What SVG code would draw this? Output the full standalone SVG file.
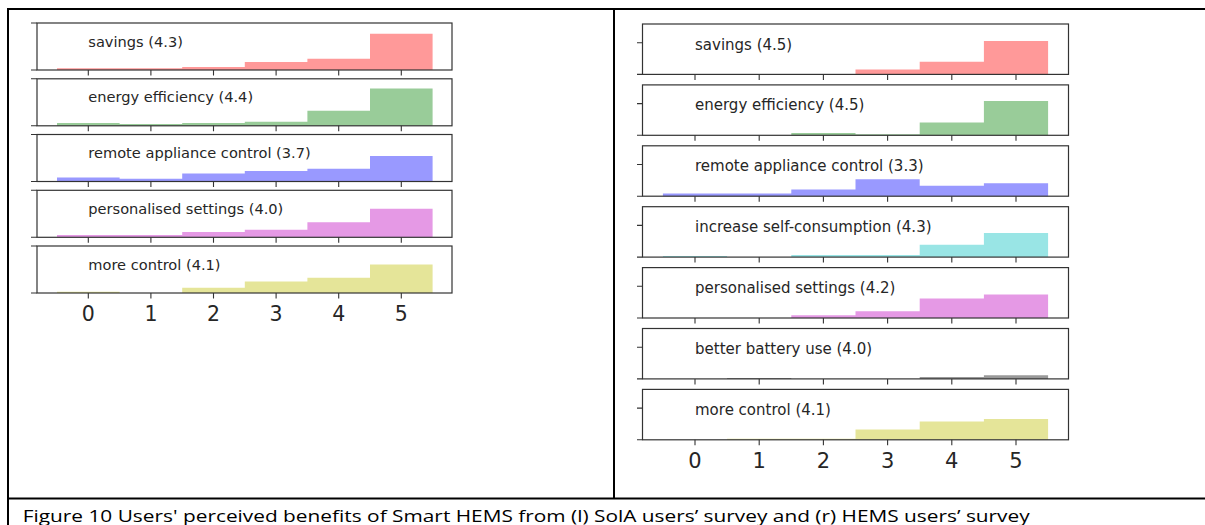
<svg xmlns="http://www.w3.org/2000/svg" width="1205" height="525" viewBox="0 0 1205 525">
<style>
.frame{fill:none;stroke:#333;stroke-width:1.2}
.tick{fill:none;stroke:#333;stroke-width:1.1}
.lblL{font-family:'DejaVu Sans',sans-serif;font-size:14.6px;fill:#262626}
.lblR{font-family:'DejaVu Sans',sans-serif;font-size:15px;fill:#262626}
.numL{font-family:'DejaVu Sans',sans-serif;font-size:20.5px;fill:#262626;text-anchor:middle}
.numR{font-family:'DejaVu Sans',sans-serif;font-size:21px;fill:#262626;text-anchor:middle}
.border{stroke:#000;stroke-width:2;fill:none}
.cap{font-family:'Open Sans',sans-serif;font-size:17px;fill:#000}
.r{fill:#ff9999}.g{fill:#99cc99}.b{fill:#9999ff}.m{fill:#e599e5}.y{fill:#e5e599}.c{fill:#99e5e5}.k{fill:#999999}
</style>
<rect x="0" y="0" width="1205" height="525" fill="#fff"/>
<g id="table-borders">
<path class="border" d="M7,9 H1205"/>
<path class="border" d="M8,8 V525"/>
<path class="border" d="M614,8 V498.5"/>
<path class="border" d="M7,498.5 H1205"/>
</g>
<g id="left-panel">
<g id="L1">
<path class="r" d="M57,70 V68.3 H119.6 V68.3 H182.2 V67 H244.8 V62 H307.4 V58.7 H370 V33.7 H432.6 V70 Z"/>
<rect class="frame" x="37" y="23" width="415" height="47"/>
<path class="tick" d="M31,23 H37 M31,70 H37 M88.3,70 v5.5 M150.9,70 v5.5 M213.5,70 v5.5 M276.1,70 v5.5 M338.7,70 v5.5 M401.3,70 v5.5"/>
<text class="lblL" x="88.3" y="46.5">savings (4.3)</text>
</g>
<g id="L2">
<path class="g" d="M57,125.8 V123.1 H119.6 V124.1 H182.2 V123.1 H244.8 V121.8 H307.4 V110.8 H370 V88.5 H432.6 V125.8 Z"/>
<rect class="frame" x="37" y="78.8" width="415" height="47"/>
<path class="tick" d="M31,78.8 H37 M31,125.8 H37 M88.3,125.8 v5.5 M150.9,125.8 v5.5 M213.5,125.8 v5.5 M276.1,125.8 v5.5 M338.7,125.8 v5.5 M401.3,125.8 v5.5"/>
<text class="lblL" x="88.3" y="102.3">energy efficiency (4.4)</text>
</g>
<g id="L3">
<path class="b" d="M57,181.5 V177.5 H119.6 V178.8 H182.2 V173.5 H244.8 V171.1 H307.4 V168.8 H370 V156.1 H432.6 V181.5 Z"/>
<rect class="frame" x="37" y="134.5" width="415" height="47"/>
<path class="tick" d="M31,134.5 H37 M31,181.5 H37 M88.3,181.5 v5.5 M150.9,181.5 v5.5 M213.5,181.5 v5.5 M276.1,181.5 v5.5 M338.7,181.5 v5.5 M401.3,181.5 v5.5"/>
<text class="lblL" x="88.3" y="158">remote appliance control (3.7)</text>
</g>
<g id="L4">
<path class="m" d="M57,237.3 V235 H119.6 V235 H182.2 V232 H244.8 V229.7 H307.4 V222.3 H370 V208.7 H432.6 V237.3 Z"/>
<rect class="frame" x="37" y="190.3" width="415" height="47"/>
<path class="tick" d="M31,190.3 H37 M31,237.3 H37 M88.3,237.3 v5.5 M150.9,237.3 v5.5 M213.5,237.3 v5.5 M276.1,237.3 v5.5 M338.7,237.3 v5.5 M401.3,237.3 v5.5"/>
<text class="lblL" x="88.3" y="213.8">personalised settings (4.0)</text>
</g>
<g id="L5">
<path class="y" d="M57,293 V291.7 H119.6 V293 H182.2 V287.7 H244.8 V281.4 H307.4 V277.7 H370 V264.4 H432.6 V293 Z"/>
<rect class="frame" x="37" y="246" width="415" height="47"/>
<path class="tick" d="M31,246 H37 M31,293 H37 M88.3,293 v5.5 M150.9,293 v5.5 M213.5,293 v5.5 M276.1,293 v5.5 M338.7,293 v5.5 M401.3,293 v5.5"/>
<text class="lblL" x="88.3" y="269.5">more control (4.1)</text>
</g>
<g id="L-axis">
<text class="numL" x="88.3" y="320.5">0</text>
<text class="numL" x="150.9" y="320.5">1</text>
<text class="numL" x="213.5" y="320.5">2</text>
<text class="numL" x="276.1" y="320.5">3</text>
<text class="numL" x="338.7" y="320.5">4</text>
<text class="numL" x="401.3" y="320.5">5</text>
</g>
</g>
<g id="right-panel">
<g id="R1">
<path class="r" d="M662.9,74.4 V74.4 H727.1 V74.4 H791.3 V74.4 H855.5 V69.4 H919.7 V61.7 H983.9 V41.1 H1048.1 V74.4 Z"/>
<rect class="frame" x="642.5" y="24" width="426" height="50.4"/>
<path class="tick" d="M637,42.7 H642.5 M637,74.4 H642.5 M695,74.4 v5.5 M759.2,74.4 v5.5 M823.4,74.4 v5.5 M887.6,74.4 v5.5 M951.8,74.4 v5.5 M1016,74.4 v5.5"/>
<text class="lblR" x="695" y="49.5">savings (4.5)</text>
</g>
<g id="R2">
<path class="g" d="M662.9,135.3 V135.3 H727.1 V135.3 H791.3 V133 H855.5 V134.3 H919.7 V122.6 H983.9 V101 H1048.1 V135.3 Z"/>
<rect class="frame" x="642.5" y="84.9" width="426" height="50.4"/>
<path class="tick" d="M637,103.6 H642.5 M637,135.3 H642.5 M695,135.3 v5.5 M759.2,135.3 v5.5 M823.4,135.3 v5.5 M887.6,135.3 v5.5 M951.8,135.3 v5.5 M1016,135.3 v5.5"/>
<text class="lblR" x="695" y="110.4">energy efficiency (4.5)</text>
</g>
<g id="R3">
<path class="b" d="M662.9,196.2 V193.5 H727.1 V193.5 H791.3 V189.5 H855.5 V179.2 H919.7 V185.8 H983.9 V183.2 H1048.1 V196.2 Z"/>
<rect class="frame" x="642.5" y="145.8" width="426" height="50.4"/>
<path class="tick" d="M637,164.5 H642.5 M637,196.2 H642.5 M695,196.2 v5.5 M759.2,196.2 v5.5 M823.4,196.2 v5.5 M887.6,196.2 v5.5 M951.8,196.2 v5.5 M1016,196.2 v5.5"/>
<text class="lblR" x="695" y="171.3">remote appliance control (3.3)</text>
</g>
<g id="R4">
<path class="c" d="M662.9,257.1 V256.1 H727.1 V257.1 H791.3 V255.1 H855.5 V255.1 H919.7 V244.8 H983.9 V233.1 H1048.1 V257.1 Z"/>
<rect class="frame" x="642.5" y="206.7" width="426" height="50.4"/>
<path class="tick" d="M637,225.4 H642.5 M637,257.1 H642.5 M695,257.1 v5.5 M759.2,257.1 v5.5 M823.4,257.1 v5.5 M887.6,257.1 v5.5 M951.8,257.1 v5.5 M1016,257.1 v5.5"/>
<text class="lblR" x="695" y="232.2">increase self-consumption (4.3)</text>
</g>
<g id="R5">
<path class="m" d="M662.9,318 V318 H727.1 V318 H791.3 V315.3 H855.5 V311.3 H919.7 V298.6 H983.9 V294.6 H1048.1 V318 Z"/>
<rect class="frame" x="642.5" y="267.6" width="426" height="50.4"/>
<path class="tick" d="M637,286.3 H642.5 M637,318 H642.5 M695,318 v5.5 M759.2,318 v5.5 M823.4,318 v5.5 M887.6,318 v5.5 M951.8,318 v5.5 M1016,318 v5.5"/>
<text class="lblR" x="695" y="293.1">personalised settings (4.2)</text>
</g>
<g id="R6">
<path class="k" d="M662.9,378.9 V378.9 H727.1 V377.9 H791.3 V378.9 H855.5 V378.9 H919.7 V376.9 H983.9 V375.3 H1048.1 V378.9 Z"/>
<rect class="frame" x="642.5" y="328.5" width="426" height="50.4"/>
<path class="tick" d="M637,347.2 H642.5 M637,378.9 H642.5 M695,378.9 v5.5 M759.2,378.9 v5.5 M823.4,378.9 v5.5 M887.6,378.9 v5.5 M951.8,378.9 v5.5 M1016,378.9 v5.5"/>
<text class="lblR" x="695" y="354">better battery use (4.0)</text>
</g>
<g id="R7">
<path class="y" d="M662.9,439.8 V439.8 H727.1 V438.8 H791.3 V438.8 H855.5 V429.5 H919.7 V421.5 H983.9 V419.1 H1048.1 V439.8 Z"/>
<rect class="frame" x="642.5" y="389.4" width="426" height="50.4"/>
<path class="tick" d="M637,408.1 H642.5 M637,439.8 H642.5 M695,439.8 v5.5 M759.2,439.8 v5.5 M823.4,439.8 v5.5 M887.6,439.8 v5.5 M951.8,439.8 v5.5 M1016,439.8 v5.5"/>
<text class="lblR" x="695" y="414.9">more control (4.1)</text>
</g>
<g id="R-axis">
<text class="numR" x="695" y="468">0</text>
<text class="numR" x="759.2" y="468">1</text>
<text class="numR" x="823.4" y="468">2</text>
<text class="numR" x="887.6" y="468">3</text>
<text class="numR" x="951.8" y="468">4</text>
<text class="numR" x="1016" y="468">5</text>
</g>
</g>
<g id="caption">
<text class="cap" x="22.7" y="521.5" textLength="1007" lengthAdjust="spacingAndGlyphs">Figure 10 Users' perceived benefits of Smart HEMS from (l) SolA users’ survey and (r) HEMS users’ survey</text>
</g>
</svg>
